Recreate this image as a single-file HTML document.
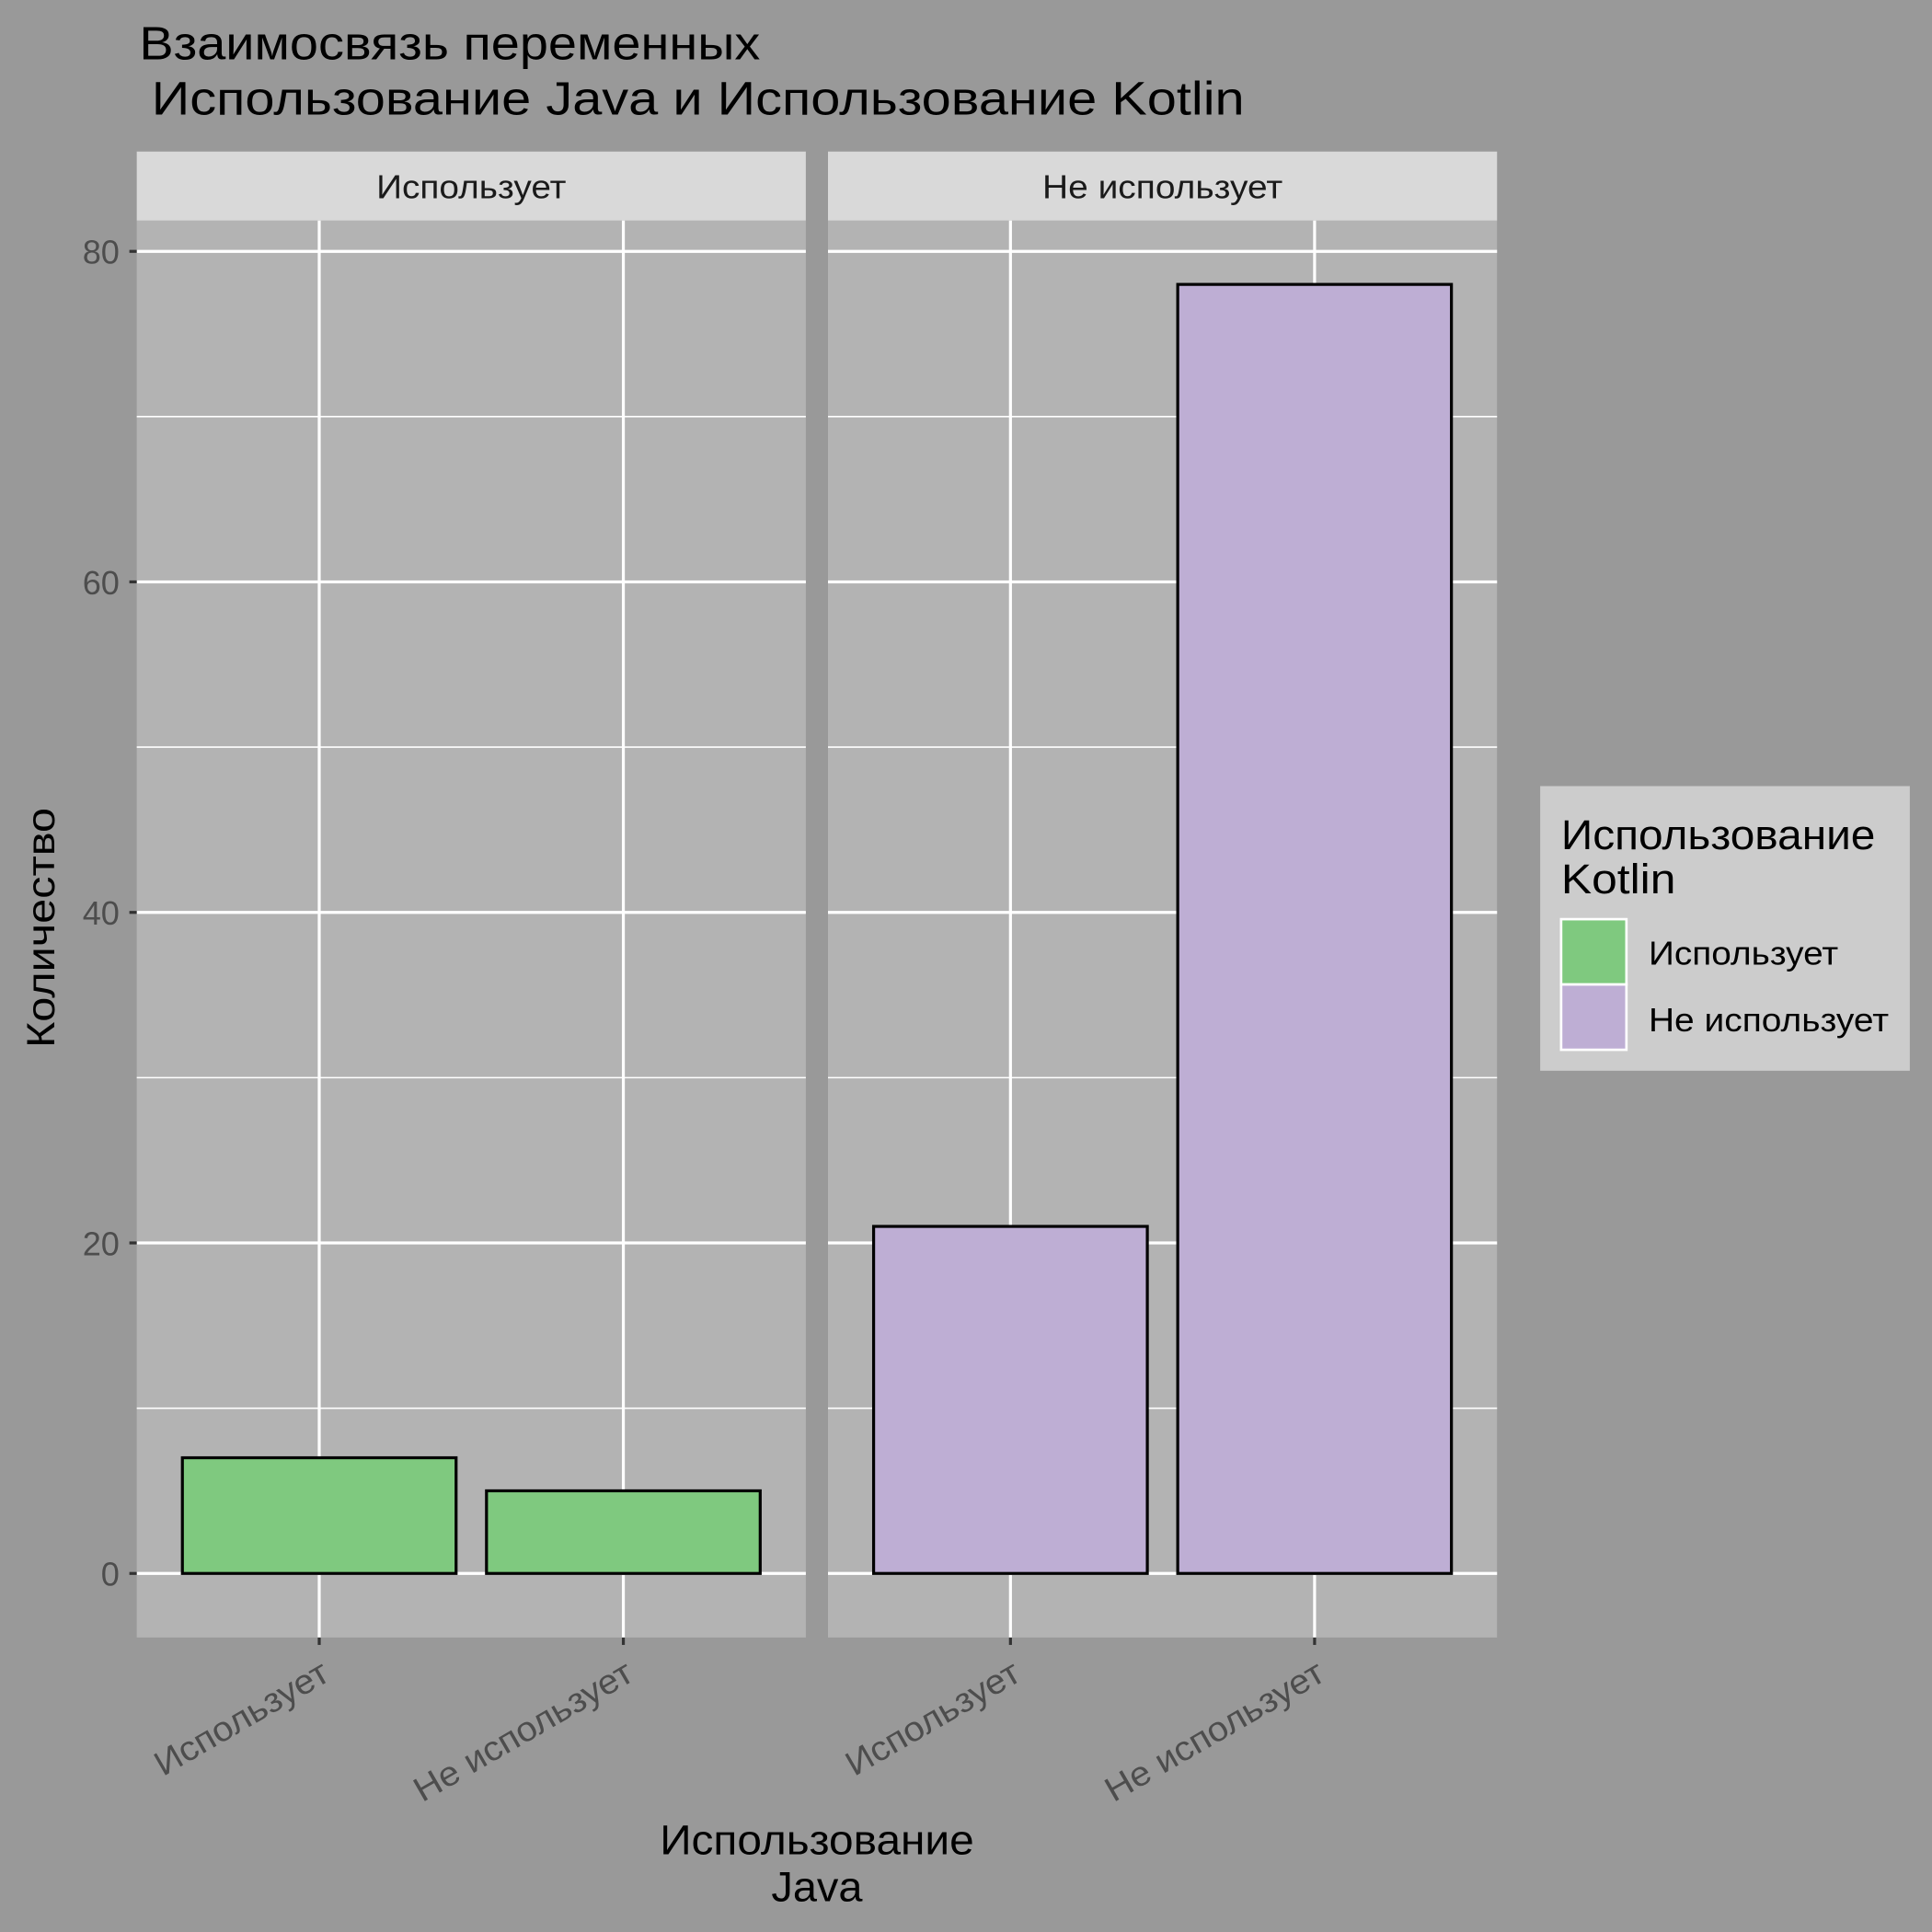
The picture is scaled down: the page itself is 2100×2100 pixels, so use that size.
<!DOCTYPE html>
<html><head><meta charset="utf-8"><style>
html,body{margin:0;padding:0;background:#999999}
svg{display:block}
text{font-family:"Liberation Sans","DejaVu Sans",sans-serif}
</style></head><body>
<svg id="chart" width="2100" height="2100" viewBox="0 0 1568 1568" xmlns="http://www.w3.org/2000/svg">
<rect x="0" y="0" width="1568" height="1568" fill="#999999"/>
<text x="113" y="48" font-size="38" textLength="504" lengthAdjust="spacingAndGlyphs" fill="#000">Взаимосвязь переменных</text>
<text x="123" y="93" font-size="38" textLength="887" lengthAdjust="spacingAndGlyphs" fill="#000">Использование Java и Использование Kotlin</text>
<g id="panels"></g>
<text transform="translate(44,753) rotate(-90)" text-anchor="middle" font-size="32" textLength="195" lengthAdjust="spacingAndGlyphs" fill="#000">Количество</text>
<text x="663" y="1505" text-anchor="middle" font-size="34" textLength="255" lengthAdjust="spacingAndGlyphs" fill="#000">Использование</text>
<text x="663" y="1543" text-anchor="middle" font-size="34" textLength="74" lengthAdjust="spacingAndGlyphs" fill="#000">Java</text>
<g>
<rect x="1250" y="638" width="300" height="231" fill="#cccccc"/>
<text x="1267" y="689" font-size="34" textLength="255" lengthAdjust="spacingAndGlyphs" fill="#000">Использование</text>
<text x="1267" y="725" font-size="34" textLength="93" lengthAdjust="spacingAndGlyphs" fill="#000">Kotlin</text>
<rect x="1267" y="746" width="53" height="53" fill="#7fc97f" stroke="#fff" stroke-width="2"/>
<rect x="1267" y="799" width="53" height="53" fill="#beaed4" stroke="#fff" stroke-width="2"/>
<text x="1338" y="783" font-size="27" textLength="154" lengthAdjust="spacingAndGlyphs" fill="#000">Использует</text>
<text x="1338" y="837" font-size="27" textLength="195" lengthAdjust="spacingAndGlyphs" fill="#000">Не использует</text>
</g>
</svg>
<script>
const facets = ["Использует", "Не использует"];
const categories = ["Использует", "Не использует"];
const valuesFacet1 = [7, 5];
const valuesFacet2 = [21, 78];
const fillColors = ["#7fc97f", "#beaed4"];
const yTicks = [0, 20, 40, 60, 80];
const yMinor = [10, 30, 50, 70];

const NS = "http://www.w3.org/2000/svg";
const g = document.getElementById("panels");
const panelX = [111, 672], panelW = 543, pTop = 179, pBot = 1329;
function y(v){ return 1277 - v * (1277 - 204) / 80; }
function x(i, p){ return panelX[p] + (0.6 + i) * panelW / 2.2; }
function mk(tag, attrs){ const e = document.createElementNS(NS, tag); for (const k in attrs) e.setAttribute(k, attrs[k]); g.appendChild(e); return e; }
const allVals = [valuesFacet1, valuesFacet2];
facets.forEach((f, p) => {
  const px = panelX[p];
  let e = mk("rect", {x: px, y: pTop, width: panelW, height: pBot - pTop, fill: "#b3b3b3"});
  
  
  e = mk("rect", {x: px, y: 123, width: panelW, height: 56, fill: "#d9d9d9"});
  
  
  e = mk("text", {x: px + panelW / 2, y: 161, "text-anchor": "middle", "font-size": 27, textLength: (f.length > 11 ? 195 : 154), lengthAdjust: "spacingAndGlyphs", fill: "#1a1a1a"});
  e.textContent = f;
  
  
  yMinor.forEach(v => {
    e = mk("line", {x1: px, x2: px + panelW, y1: y(v), y2: y(v), stroke: "#fff", "stroke-width": 1.2});
    
    
  });
  yTicks.forEach(v => {
    e = mk("line", {x1: px, x2: px + panelW, y1: y(v), y2: y(v), stroke: "#fff", "stroke-width": 2.4});
    
    
  });
  categories.forEach((c, i) => {
    e = mk("line", {x1: x(i, p), x2: x(i, p), y1: pTop, y2: pBot, stroke: "#fff", "stroke-width": 2.4});
    
    
  });
  categories.forEach((c, i) => {
    const v = allVals[p][i];
    const bw = 0.9 * panelW / 2.2;
    e = mk("rect", {x: x(i, p) - bw / 2, y: y(v), width: bw, height: y(0) - y(v), fill: fillColors[p], stroke: "#000", "stroke-width": 2.4});
    
    
    e = mk("line", {x1: x(i, p), x2: x(i, p), y1: pBot, y2: pBot + 6, stroke: "#333", "stroke-width": 2.4});
    
    
    e = mk("text", {transform: `translate(${x(i, p) + 10},${pBot + 34}) rotate(-30)`, "text-anchor": "end", "font-size": 28, textLength: (c.length > 11 ? 200 : 158), lengthAdjust: "spacingAndGlyphs", fill: "#4d4d4d"});
    e.textContent = c;
    
    
  });
});
yTicks.forEach(v => {
  let e = mk("line", {x1: 105, x2: 111, y1: y(v), y2: y(v), stroke: "#333", "stroke-width": 2.4});
  
  
  e = mk("text", {x: 97, y: y(v) + 10, "text-anchor": "end", "font-size": 27, fill: "#4d4d4d"});
  e.textContent = v;
  
  
});
</script>
</body></html>
